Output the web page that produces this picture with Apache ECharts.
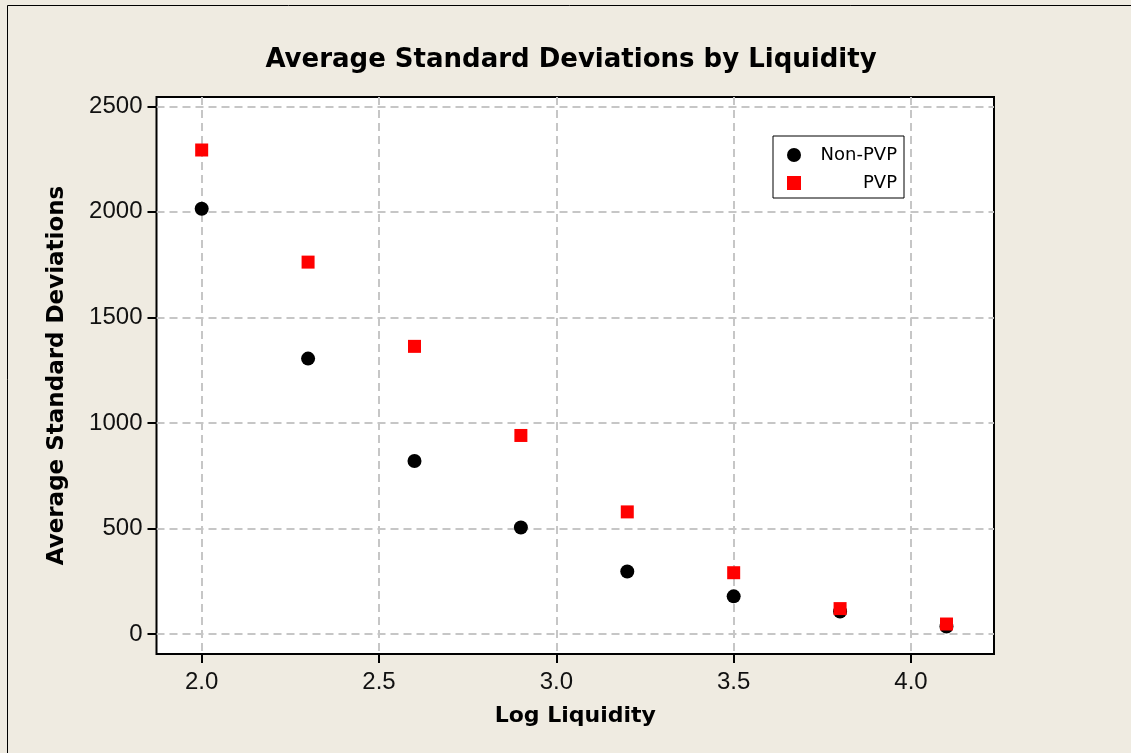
<!DOCTYPE html>
<html>
<head>
<meta charset="utf-8">
<script src="https://cdn.jsdelivr.net/npm/echarts@6/dist/echarts.min.js"></script>
<style>
html,body{margin:0;padding:0;background:#EFEBE1;}
#chart{width:1131px;height:753px;}
</style>
</head>
<body>
<div id="chart"></div>
<script>
// Data
const logLiquidity = [2.0, 2.3, 2.6, 2.9, 3.2, 3.5, 3.8, 4.1];
const nonPVP = [2015, 1305, 820, 505, 297, 179, 107, 36];
const pvp = [2293, 1762, 1363, 941, 579, 291, 121, 48];
const xTicks = [2.0, 2.5, 3.0, 3.5, 4.0];
const yTicks = [0, 500, 1000, 1500, 2000, 2500];

const chart = echarts.init(document.getElementById('chart'), null, {renderer: 'canvas'});
const pair = (ys) => logLiquidity.map((x, i) => [x, ys[i]]);
const gridLine = {show: true, lineStyle: {color: '#C6C6C6', width: 2, type: [8, 5]}};

chart.setOption({
  backgroundColor: '#EFEBE1',
  animation: false,
  graphic: [{
    type: 'rect', silent: true,
    shape: {x: 7.5, y: 5.5, width: 2000, height: 2000},
    style: {fill: null, stroke: '#000', lineWidth: 1}
  }],
  title: {
    text: 'Average Standard Deviations by Liquidity',
    left: 571, top: 47, textAlign: 'center', padding: 0,
    textStyle: {fontFamily: 'DejaVu Sans', fontWeight: 'bold', fontSize: 26, color: '#000'}
  },
  grid: {
    left: 156.5, right: 137, top: 97, bottom: 99,
    show: true, backgroundColor: '#fff', borderColor: '#000', borderWidth: 2
  },
  legend: {
    orient: 'vertical', left: 773, top: 136,
    padding: [10, 7, 6, 14],
    itemWidth: 14, itemHeight: 14, itemGap: 10,
    backgroundColor: '#fff', borderColor: '#000', borderWidth: 1,
    formatter: (name) => '{r|' + name + '}',
    textStyle: {
      rich: {r: {width: 91, align: 'right', lineHeight: 14, fontSize: 18, fontFamily: 'DejaVu Sans', color: '#000'}}
    },
    data: ['Non-PVP', 'PVP']
  },
  xAxis: {
    type: 'value', min: 1.8726, max: 4.234,
    name: 'Log Liquidity', nameLocation: 'middle', nameGap: 51,
    nameTextStyle: {fontFamily: 'DejaVu Sans', fontWeight: 'bold', fontSize: 22, color: '#000'},
    axisLine: {show: false, onZero: false},
    axisTick: {show: true, length: 9, customValues: xTicks, lineStyle: {color: '#000', width: 2}},
    axisLabel: {customValues: xTicks, margin: 16, formatter: (v) => v.toFixed(1),
      fontFamily: 'Liberation Sans', fontSize: 24, color: '#111'},
    splitLine: gridLine
  },
  yAxis: {
    type: 'value', min: -94, max: 2544,
    name: 'Average Standard Deviations', nameLocation: 'middle', nameGap: 88,
    nameTextStyle: {fontFamily: 'DejaVu Sans', fontWeight: 'bold', fontSize: 23, color: '#000'},
    axisLine: {show: false, onZero: false},
    axisTick: {show: true, length: 9, customValues: yTicks, lineStyle: {color: '#000', width: 2}},
    axisLabel: {customValues: yTicks, margin: 14, formatter: (v) => String(v),
      fontFamily: 'Liberation Sans', fontSize: 24, color: '#111'},
    splitLine: gridLine
  },
  series: [
    {name: 'Non-PVP', type: 'scatter', symbol: 'circle', symbolSize: 14,
      itemStyle: {color: '#000', opacity: 1}, data: pair(nonPVP)},
    {name: 'PVP', type: 'scatter', symbol: 'rect', symbolSize: 13,
      itemStyle: {color: '#FF0000', opacity: 1}, data: pair(pvp)}
  ]
});
</script>
</body>
</html>
